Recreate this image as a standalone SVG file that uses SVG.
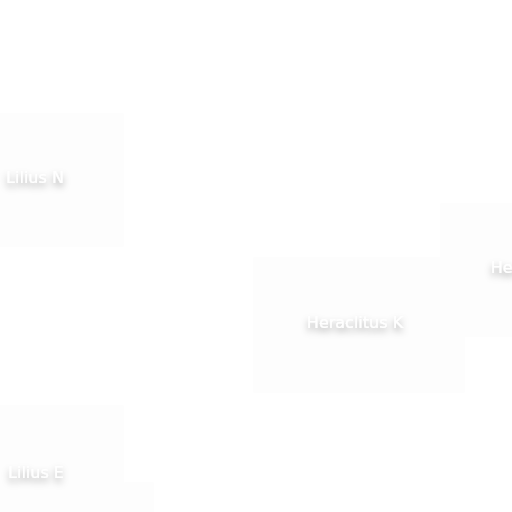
<svg xmlns="http://www.w3.org/2000/svg" width="512" height="512" viewBox="0 0 512 512">
<defs>
<filter id="ts" x="-40%" y="-80%" width="180%" height="280%">
<feGaussianBlur in="SourceAlpha" stdDeviation="3.5"/>
<feOffset dx="0" dy="4" result="b"/>
<feFlood flood-color="#000" flood-opacity="0.36"/>
<feComposite in2="b" operator="in"/>
<feMerge><feMergeNode/><feMergeNode in="SourceGraphic"/></feMerge>
</filter>
</defs>
<style>
.box{fill:#fdfdfd;stroke:none}
.lbl{fill:#ffffff;font-family:"DejaVu Sans",sans-serif;font-size:16px;text-anchor:middle;filter:url(#ts)}
</style>
<rect width="512" height="512" fill="#ffffff"/>
<g id="connectors">
<circle cx="451" cy="266" r="4" fill="#ffffff" filter="url(#ts)"/>
</g>
<g id="node-lilius-n">
<rect class="box" x="-54" y="113" width="178" height="134" rx="2"/>
<text class="lbl" x="35" y="183">Lilius N</text>
</g>
<g id="node-heraclitus-k">
<rect class="box" x="253" y="257" width="212" height="136" rx="2"/>
<text class="lbl" x="355" y="328">Heraclitus K</text>
</g>
<g id="node-heraclitus-right">
<rect class="box" x="440" y="203" width="200" height="134" rx="2"/>
<text class="lbl" x="531" y="273">Heraclitus</text>
</g>
<g id="node-lilius-e">
<rect class="box" x="-54" y="405" width="178" height="134" rx="2"/>
<text class="lbl" x="36" y="478">Lilius E</text>
</g>
<g id="node-bottom">
<rect class="box" x="124" y="482" width="30" height="40" rx="2"/>
</g>
</svg>
